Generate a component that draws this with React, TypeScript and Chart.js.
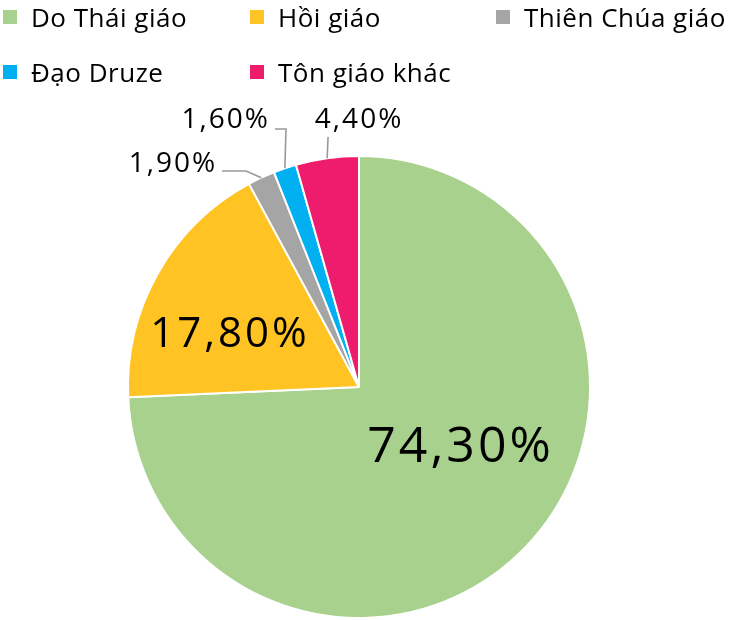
import React, { useEffect, useRef } from "react";
import { Chart, registerables } from "chart.js";

Chart.register(...registerables);

// ---- data ----
const categories = ["Do Thái giáo", "Hồi giáo", "Thiên Chúa giáo", "Đạo Druze", "Tôn giáo khác"];
const shares = [74.3, 17.8, 1.9, 1.6, 4.4];
const colors = ["#A9D18E", "#FFC423", "#A5A5A5", "#00B0F0", "#EF1C6E"];

const fmt = (v: number) => v.toFixed(2).replace(".", ",") + "%";

// ---- label layout (in units of pie radius, relative to pie centre) ----
type Lbl =
  | { kind: "inside"; x: number; y: number; size: number; spacing: number }
  | { kind: "outside"; path: number[][]; x: number; y: number; align: CanvasTextAlign; size: number; spacing: number };

const labelLayout: Lbl[] = [
  { kind: "inside", x: 0.433, y: 0.325, size: 50, spacing: 3 },
  { kind: "inside", x: -0.565, y: -0.173, size: 42, spacing: 3 },
  { kind: "outside", path: [[-0.489, -0.935], [-0.593, -0.935]], x: -0.623, y: -0.931, align: "right", size: 28, spacing: 2 },
  { kind: "outside", path: [[-0.316, -1.117], [-0.364, -1.117]], x: -0.394, y: -1.121, align: "right", size: 28, spacing: 2 },
  { kind: "outside", path: [[-0.134, -1.082]], x: -0.004, y: -1.121, align: "center", size: 28, spacing: 2 },
];

const FONT = "'Open Sans', 'Noto Sans', sans-serif";

const labelPlugin = {
  id: "sliceLabels",
  afterDatasetsDraw(chart: any) {
    const meta = chart.getDatasetMeta(0);
    const ctx: any = chart.ctx;
    ctx.save();
    meta.data.forEach((arc: any, i: number) => {
      const lay = labelLayout[i];
      if (!lay) return;
      const { x: cx, y: cy, startAngle, endAngle, outerRadius: R } = arc.getProps(
        ["x", "y", "startAngle", "endAngle", "outerRadius"],
        true
      );
      const text = fmt(shares[i]);
      ctx.fillStyle = "#000";
      ctx.font = `${lay.size}px ${FONT}`;
      ctx.letterSpacing = `${lay.spacing}px`;
      ctx.textBaseline = "alphabetic";
      // compensate the trailing letter-spacing for alignment
      const trail = lay.spacing;
      if (lay.kind === "inside") {
        ctx.textAlign = "center";
        ctx.fillText(text, cx + lay.x * R + trail / 2, cy + lay.y * R);
      } else {
        const mid = (startAngle + endAngle) / 2;
        ctx.strokeStyle = "#999999";
        ctx.lineWidth = 1.6;
        ctx.beginPath();
        ctx.moveTo(cx + Math.cos(mid) * R, cy + Math.sin(mid) * R);
        lay.path.forEach((p) => ctx.lineTo(cx + p[0] * R, cy + p[1] * R));
        ctx.stroke();
        ctx.textAlign = lay.align;
        const shift = lay.align === "right" ? trail : lay.align === "center" ? trail / 2 : 0;
        ctx.fillText(text, cx + lay.x * R + shift, cy + lay.y * R);
      }
    });
    ctx.restore();
  },
};

export default function App() {
  const ref = useRef<HTMLCanvasElement | null>(null);

  useEffect(() => {
    if (!ref.current) return;
    const chart = new Chart(ref.current, {
      type: "pie",
      data: {
        labels: categories,
        datasets: [
          {
            data: shares,
            backgroundColor: colors,
            borderColor: "#FFFFFF",
            borderWidth: 2,
          },
        ],
      },
      options: {
        animation: false,
        responsive: false,
        maintainAspectRatio: false,
        layout: { padding: { left: 127, right: 139, top: 155, bottom: 1 } },
        plugins: {
          legend: { display: false },
          tooltip: { enabled: false },
          title: { display: false },
        },
      },
      plugins: [labelPlugin],
    });
    return () => chart.destroy();
  }, []);

  const colLeft = [3, 250, 496];
  const rowCenter = [16.5, 71.5];

  return (
    <div style={{ position: "absolute", left: 0, top: 0, width: 730, height: 620, background: "#fff" }}>
      <canvas ref={ref} width={730} height={620} style={{ position: "absolute", left: 0, top: 0 }} />
      {categories.map((c, i) => (
        <div
          key={c}
          style={{
            position: "absolute",
            left: colLeft[i % 3],
            top: rowCenter[Math.floor(i / 3)] - 18,
            height: 36,
            display: "flex",
            alignItems: "center",
            whiteSpace: "nowrap",
            fontFamily: FONT,
            fontSize: 26,
            fontWeight: 500,
            letterSpacing: 0.5,
            color: "#000",
          }}
        >
          <span style={{ display: "inline-block", width: 14, height: 14, background: colors[i], marginRight: 14 }} />
          <span>{c}</span>
        </div>
      ))}
    </div>
  );
}
